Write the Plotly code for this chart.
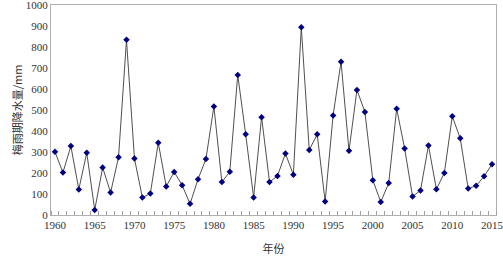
import plotly.graph_objects as go

years = list(range(1960, 2016))
rainfall = [301, 202, 328, 122, 296, 24, 226, 107, 275, 834,
            269, 83, 102, 344, 136, 205, 142, 53, 170, 267,
            517, 157, 206, 667, 384, 83, 466, 157, 186, 293,
            192, 894, 310, 384, 64, 474, 730, 306, 595, 491,
            166, 62, 152, 506, 317, 88, 117, 331, 123, 200,
            470, 365, 126, 139, 184, 242]
x_tick_vals = list(range(1960, 2016, 5))
x_tick_text = [str(v) for v in x_tick_vals]
y_tick_vals = list(range(0, 1001, 100))

fig = go.Figure()
fig.add_trace(go.Scatter(
    x=years, y=rainfall, mode="lines+markers",
    line=dict(color="#505050", width=1),
    marker=dict(symbol="diamond", size=5, color="#000080"),
    showlegend=False,
))

serif = "Liberation Serif"
fig.update_layout(
    width=503, height=257,
    margin=dict(l=51, r=7, t=5, b=42),
    paper_bgcolor="white", plot_bgcolor="white",
    font=dict(family=serif, size=10, color="#333"),
)
fig.update_xaxes(
    range=[1959.5, 2015.5], automargin=False, ticklabeloverflow="allow",
    tickvals=x_tick_vals, ticktext=x_tick_text,
    ticks="", showgrid=False, zeroline=False,
    showline=True, linecolor="#b0b0b0", linewidth=1, mirror=True,
    tickfont=dict(family=serif, size=11),
    minor=dict(tick0=1959.5, dtick=1, ticks="inside", ticklen=4,
               tickcolor="#a0a0a0", showgrid=False),
    title=dict(text="年份", font=dict(family="Noto Sans CJK SC", size=11), standoff=15),
)
fig.update_yaxes(
    range=[0, 1000], tickvals=y_tick_vals, automargin=False, ticklabeloverflow="allow",
    ticks="", showgrid=False, zeroline=False,
    showline=True, linecolor="#b0b0b0", linewidth=1, mirror=True,
    tickfont=dict(family=serif, size=11),
    title=dict(text="梅雨期降水量/mm", font=dict(family="Noto Sans CJK SC", size=11), standoff=0),
)
fig.write_html("out.html", config={"displayModeBar": False},
               post_script="document.body.style.margin='0';")
